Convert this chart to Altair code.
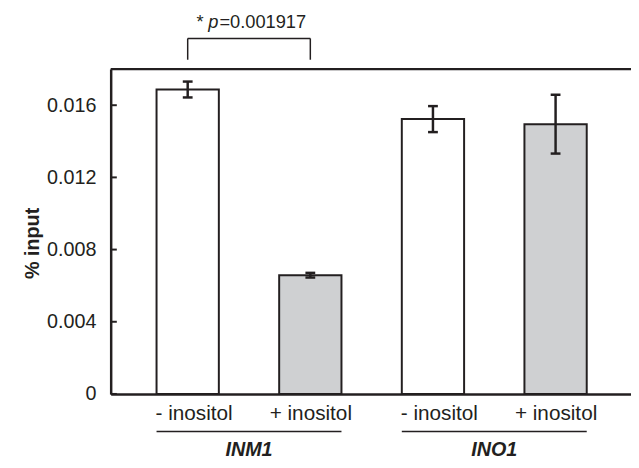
import altair as alt
import pandas as pd

# ---- data ----
genes = ["INM1", "INM1", "INO1", "INO1"]
conditions = ["- inositol", "+ inositol", "- inositol", "+ inositol"]
means = [0.01687, 0.00658, 0.01523, 0.01495]
errors = [0.00044, 0.00013, 0.00072, 0.00163]
y_ticks = [0, 0.004, 0.008, 0.012, 0.016]
gene_labels = ["INM1", "INO1"]
p_value_text = "=0.001917"

# ---- style ----
INK = "#231f20"
GREY = "#cfd0d2"
FONT = "Liberation Sans"
XMIN, XMAX = 0.372, 4.615
YMAX = 0.018
BAR_HALF = 0.254
CAP_HALF = 0.04

df = pd.DataFrame({"gene": genes, "condition": conditions, "mean": means, "err": errors})
df["pos"] = range(1, len(df) + 1)
df["lo"] = df["mean"] - df["err"]
df["hi"] = df["mean"] + df["err"]
df["x0"] = df["pos"] - BAR_HALF
df["x1"] = df["pos"] + BAR_HALF
df["c0"] = df["pos"] - CAP_HALF
df["c1"] = df["pos"] + CAP_HALF
df["zero"] = 0.0
df["treated"] = df["condition"].str.startswith("+")

x_scale = alt.Scale(domain=[XMIN, XMAX], nice=False, zero=False)
y_scale = alt.Scale(domain=[0, YMAX], nice=False)

label_expr = "[" + ",".join("'%s'" % c for c in conditions) + "][datum.value - 1]"
minus_pos = [int(p) for p, c in zip(df["pos"], conditions) if c.startswith("-")]
minus_test = " || ".join("datum.value == %d" % p for p in minus_pos)

x_axis = alt.Axis(values=list(df["pos"]), labelExpr=label_expr, ticks=False, grid=False,
                  domain=True, domainColor=INK, domainWidth=2.5, labelFontSize=21,
                  labelFont=FONT, labelColor=INK, labelBaseline="alphabetic",
                  labelPadding=26,
                  labelOffset={"condition": {"test": minus_test, "value": 6}, "value": 0},
                  title=None)
y_axis = alt.Axis(values=y_ticks, format="~g", ticks=False, grid=False, domain=True,
                  domainColor=INK, domainWidth=2.5, labelFontSize=20, labelFont=FONT,
                  labelColor=INK, labelPadding=15, title="% input", titleFont=FONT,
                  titleFontSize=20, titleFontWeight="bold", titleColor=INK,
                  titleX=-79, titleY=176, titleBaseline="middle", titleAlign="center")

bars = alt.Chart(df).mark_bar(stroke=INK, strokeWidth=2).encode(
    x=alt.X("x0:Q", scale=x_scale, axis=x_axis),
    x2="x1",
    y=alt.Y("mean:Q", scale=y_scale, axis=y_axis),
    y2="zero",
    fill=alt.condition("datum.treated", alt.value(GREY), alt.value("white")),
)

err_line = alt.Chart(df).mark_rule(color=INK, strokeWidth=2.5).encode(
    x="pos:Q", y="lo:Q", y2="hi")
cap_lo = alt.Chart(df).mark_rule(color=INK, strokeWidth=2.5).encode(
    x="c0:Q", x2="c1", y="lo:Q")
cap_hi = alt.Chart(df).mark_rule(color=INK, strokeWidth=2.5).encode(
    x="c0:Q", x2="c1", y="hi:Q")

# frame top
top = alt.Chart(pd.DataFrame({"v": [YMAX]})).mark_rule(color=INK, strokeWidth=2.5).encode(y="v:Q")

# inward y ticks
tick_df = pd.DataFrame({"v": y_ticks})
yticks = alt.Chart(tick_df).mark_rule(color=INK, strokeWidth=2).encode(
    y="v:Q", x=alt.datum(XMIN), x2=alt.datum(XMIN + 0.05))

# group underline + gene label
grp = df.groupby("gene", sort=False).agg(x0=("x0", "min"), x1=("x1", "max")).reset_index()
grp["mid"] = (grp["x0"] + grp["x1"]) / 2
UL_Y = -0.00208
GL_Y = -0.00342
underline = alt.Chart(grp).mark_rule(color=INK, strokeWidth=1.5, clip=False).encode(
    x="x0:Q", x2="x1", y=alt.datum(UL_Y))
gene_text = alt.Chart(grp).mark_text(font=FONT, fontSize=20, fontWeight="bold",
                                     fontStyle="italic", color=INK, baseline="alphabetic",
                                     clip=False).encode(
    x="mid:Q", y=alt.datum(GL_Y), text="gene:N")

# significance bracket between the two INM1 bars
a, b = float(df["pos"][0]), float(df["pos"][1])
BR_Y, LEG_Y, TXT_Y = 0.0197, 0.01852, 0.0203
br_df = pd.DataFrame({"x": [a, b]})
br_h = alt.Chart(pd.DataFrame({"a": [a], "b": [b]})).mark_rule(color=INK, strokeWidth=1.5).encode(
    x="a:Q", x2="b", y=alt.datum(BR_Y))
br_v = alt.Chart(br_df).mark_rule(color=INK, strokeWidth=1.5).encode(
    x="x:Q", y=alt.datum(BR_Y), y2=alt.datum(LEG_Y))
mid = (a + b) / 2
t_val = alt.Chart(pd.DataFrame({"x": [mid], "t": [p_value_text]})).mark_text(
    font=FONT, fontSize=18.5, color=INK, align="left", baseline="alphabetic", dx=-30).encode(
    x="x:Q", y=alt.datum(TXT_Y), text="t:N")
t_p = alt.Chart(pd.DataFrame({"x": [mid], "t": ["p"]})).mark_text(
    font=FONT, fontSize=18.5, fontStyle="italic", color=INK, align="right",
    baseline="alphabetic", dx=-31).encode(x="x:Q", y=alt.datum(TXT_Y), text="t:N")
t_star = alt.Chart(pd.DataFrame({"x": [mid], "t": ["*"]})).mark_text(
    font=FONT, fontSize=18.5, color=INK, align="right", baseline="alphabetic", dx=-46).encode(
    x="x:Q", y=alt.datum(TXT_Y), text="t:N")

chart = alt.layer(bars, err_line, cap_lo, cap_hi, top, yticks, underline, gene_text,
                  br_h, br_v, t_val, t_p, t_star).properties(
    width=527, height=329,
    autosize=alt.AutoSizeParams(type="none"),
    padding={"left": 104, "top": 59, "right": 0, "bottom": 64},
    background="white",
).configure_view(stroke=None)

chart.save("out.html", embed_options={"renderer": "svg", "actions": False})
